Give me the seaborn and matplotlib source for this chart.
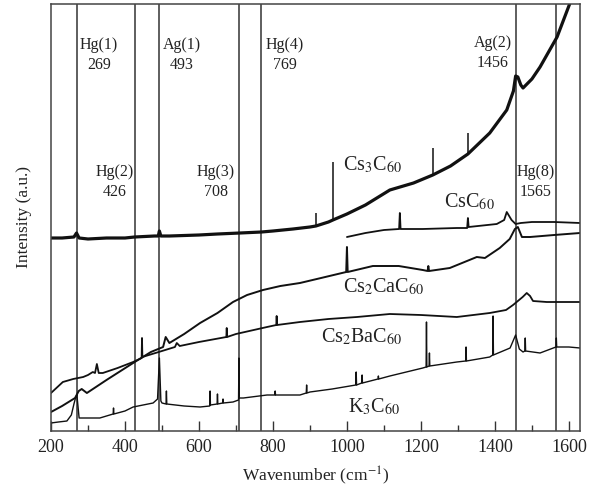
import numpy as np
import pandas as pd
import matplotlib
matplotlib.use("Agg")
import matplotlib.pyplot as plt
import seaborn as sns

# ---- data (intensity in arbitrary units) ----
cs3_x = [200, 230, 262, 269, 276, 300, 350, 400, 426, 480, 490, 493, 497, 520, 600, 650, 711, 769,
         800, 854, 900, 916, 950, 962, 1000, 1050, 1116, 1180, 1232, 1280, 1327, 1386, 1432, 1450,
         1456, 1462, 1470, 1476, 1500, 1522, 1568, 1603, 1630]
cs3_y = [193, 193, 194, 198, 193, 192, 193, 193, 194, 195, 195, 200, 195, 195, 196, 197, 198, 199,
         200, 202, 204, 205, 209, 211, 217, 226, 241, 248, 256, 265, 277, 298, 321, 340,
         355, 354, 346, 343, 352, 364, 394, 428, 460]
cs3_spike_x = [916, 962, 1232, 1327]
cs3_spike_top = [218, 269, 283, 298]

csc_x = [1000, 1050, 1100, 1141, 1143, 1145, 1205, 1297, 1325, 1327, 1329, 1405, 1425, 1432, 1445,
         1456, 1470, 1500, 1560, 1630]
csc_y = [194, 198, 201, 202, 218, 202, 202, 203, 203, 213, 204, 207, 211, 219, 211,
         207, 208, 209, 209, 208]

ca_x = [200, 230, 265, 275, 283, 297, 350, 422, 470, 503, 510, 520, 560, 603, 650, 692, 730, 773,
        820, 873, 930, 998, 1000, 1002, 1070, 1140, 1205, 1218, 1220, 1222, 1278, 1351, 1373, 1413,
        1440, 1454, 1462, 1473, 1495, 1560, 1630]
ca_y = [19, 25, 33, 40, 42, 38, 51, 68, 79, 84, 94, 88, 97, 108, 118, 129, 136, 141,
        145, 148, 153, 159, 184, 159, 165, 165, 161, 160, 165, 160, 163, 174, 173, 183,
        192, 202, 204, 194, 194, 196, 198]

ba_x = [200, 232, 260, 287, 300, 313, 319, 324, 329, 340, 380, 422, 445, 446, 447, 500, 535, 540,
        548, 600, 674, 675, 676, 700, 784, 809, 810, 811, 873, 950, 1027, 1116, 1200, 1297, 1386,
        1430, 1449, 1475, 1486, 1495, 1503, 1540, 1630]
ba_y = [38, 49, 52, 54, 56, 59, 58, 67, 58, 58, 63, 69, 73, 93, 74, 80, 84, 88,
        85, 89, 94, 103, 94, 97, 104, 106, 115, 106, 109, 112, 114, 117, 116, 114, 118,
        121, 126, 134, 138, 135, 130, 129, 129]

k3_x = [200, 220, 243, 255, 262, 267, 270, 276, 300, 332, 368, 369, 370, 400, 422, 476, 488, 493,
        497, 500, 511, 512, 513, 560, 603, 629, 630, 631, 649, 650, 651, 664, 665, 666, 692, 707,
        708, 709, 720, 784, 805, 806, 807, 873, 890, 891, 892, 900, 960, 1024, 1025, 1026, 1040,
        1041, 1042, 1084, 1085, 1086, 1116, 1205, 1214, 1215, 1216, 1222, 1223, 1224, 1297, 1321,
        1322, 1323, 1386, 1394, 1395, 1396, 1441, 1456, 1466, 1476, 1481, 1482, 1483, 1522, 1565,
        1566, 1567, 1600, 1630]
k3_y = [8, 9, 10, 16, 27, 34, 36, 13, 13, 13, 17, 23, 17, 20, 24, 28, 32, 73,
        30, 28, 27, 40, 27, 25, 24, 25, 40, 26, 27, 37, 27, 28, 32, 28, 29, 31,
        73, 33, 33, 36, 36, 40, 36, 36, 38, 46, 38, 39, 42, 46, 59, 46, 48,
        56, 48, 52, 55, 52, 55, 63, 64, 109, 64, 65, 78, 65, 69, 70,
        84, 70, 74, 76, 115, 76, 83, 96, 82, 79, 80, 93, 80, 78, 84,
        93, 84, 84, 83]

mode_pos = [269, 426, 493, 708, 769, 1456, 1565]
mode_names = ["Hg(1)", "Hg(2)", "Ag(1)", "Hg(3)", "Hg(4)", "Ag(2)", "Hg(8)"]
mode_label_x = [330, 373, 554, 646, 832, 1395, 1511]
mode_label_y = [386, 259, 386, 259, 386, 388, 259]

series_names = ["Cs$_3$C$_{60}$", "CsC$_{60}$", "Cs$_2$CaC$_{60}$", "Cs$_2$BaC$_{60}$", "K$_3$C$_{60}$"]
series_label_x = [1070, 1330, 1100, 1041, 1073]
series_label_y = [266, 229, 144, 94, 24]

# ---- style ----
sns.set_theme(style="white")
plt.rcParams["font.family"] = ["Liberation Serif", "DejaVu Serif"]
plt.rcParams["mathtext.fontset"] = "stix"

fig = plt.figure(figsize=(5.92, 4.94), dpi=100)
ax = fig.add_axes([51 / 592, 63 / 494, 529 / 592, 427 / 494])

xs = [cs3_x, csc_x, ca_x, ba_x, k3_x]
ys = [cs3_y, csc_y, ca_y, ba_y, k3_y]
lws = [2.3, 1.3, 1.4, 1.3, 1.0]
for x, y, lw in zip(xs, ys, lws):
    df = pd.DataFrame({"w": x, "i": y})
    sns.lineplot(data=df, x="w", y="i", ax=ax, color="#111111", linewidth=lw,
                 sort=False, estimator=None)

# thin spikes on the Cs3C60 trace
base = np.interp(cs3_spike_x, cs3_x, cs3_y)
ax.vlines(cs3_spike_x, base, cs3_spike_top, color="#111111", linewidth=1.1)

for p in mode_pos:
    ax.axvline(p, color="#333333", linewidth=1.1, zorder=1)

for name, p, lx, ly in zip(mode_names, mode_pos, mode_label_x, mode_label_y):
    ax.text(lx, ly, name, ha="center", va="center", fontsize=11.5, color="#222222")
    ax.text(lx, ly - 20, str(p), ha="center", va="center", fontsize=11.5, color="#222222")

for name, lx, ly in zip(series_names, series_label_x, series_label_y):
    ax.text(lx, ly, name, ha="center", va="center", fontsize=14.5, color="#222222")

ax.set_xlim(200, 1630)
ax.set_ylim(0, 427)
ax.set_xticks(range(200, 1601, 200))
ax.set_xticks(range(300, 1601, 200), minor=True)
ax.set_yticks([])
ax.tick_params(axis="x", which="major", direction="in", length=7, width=1, labelsize=13,
               colors="#333333", labelcolor="#222222", pad=6, bottom=True)
ax.tick_params(axis="x", which="minor", direction="in", length=4.5, width=1, colors="#333333",
               bottom=True)
for s in ax.spines.values():
    s.set_color("#444444")
    s.set_linewidth(1.1)

ax.set_xlabel("Wavenumber (cm$^{-1}$)", fontsize=12.5, color="#222222", labelpad=6)
ax.set_ylabel("Intensity (a.u.)", fontsize=12.5, color="#222222", labelpad=14)

fig.savefig("out.png", dpi=100)
